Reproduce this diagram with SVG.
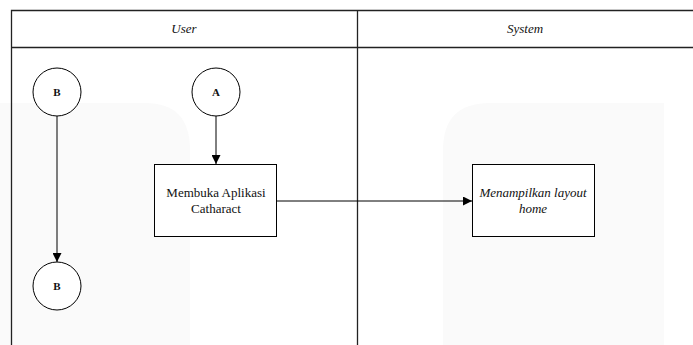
<svg xmlns="http://www.w3.org/2000/svg" width="693" height="345" viewBox="0 0 693 345">
<defs>
<marker id="arr" viewBox="0 0 10 10" refX="10" refY="5" markerWidth="9" markerHeight="9" markerUnits="userSpaceOnUse" orient="auto">
<path d="M0,0 L10,5 L0,10 z" fill="#000"/>
</marker>
<style>
.lane{fill:none;stroke:#222;stroke-width:1.3}
.node{fill:#fff;stroke:#000;stroke-width:1}
text{font-family:"Liberation Serif",serif;font-size:13px;fill:#111;text-anchor:middle}
.i{font-style:italic}
.b{font-size:11px;font-weight:bold}
.c{fill:none;stroke:#000;stroke-width:1}
.wm{fill:#fafafa}
</style>
</defs>
<rect width="693" height="345" fill="#fff"/>
<path class="wm" d="M0,103 H145 Q190,103 190,150 V345 H0 Z"/>
<path class="wm" d="M490,103 H664 V345 H443 V150 Q443,103 490,103 Z"/>
<g id="lanes">
<path class="lane" d="M11.5,345 V10.5 H693 M11.5,47.5 H693 M357.5,10.5 V345"/>
<text class="i" x="184" y="33">User</text>
<text class="i" x="525" y="33">System</text>
</g>
<g id="connectors">
<line class="c" x1="57" y1="116" x2="57" y2="262" marker-end="url(#arr)"/>
<line class="c" x1="216" y1="116" x2="216" y2="164" marker-end="url(#arr)"/>
<line class="c" x1="277" y1="201" x2="472" y2="201" marker-end="url(#arr)"/>
</g>
<g id="nodeB1">
<circle class="node" cx="57" cy="92" r="24"/>
<text class="b" x="57" y="96">B</text>
</g>
<g id="nodeA">
<circle class="node" cx="216" cy="92" r="24"/>
<text class="b" x="216" y="96">A</text>
</g>
<g id="nodeB2">
<circle class="node" cx="57" cy="286" r="24"/>
<text class="b" x="57" y="290">B</text>
</g>
<g id="membuka">
<rect class="node" x="154.5" y="164.5" width="122" height="72"/>
<text x="216" y="197">Membuka Aplikasi</text>
<text x="216" y="213">Catharact</text>
</g>
<g id="menampilkan">
<rect class="node" x="472.5" y="164.5" width="122" height="72"/>
<text class="i" x="533" y="197">Menampilkan layout</text>
<text class="i" x="533" y="213">home</text>
</g>
</svg>
